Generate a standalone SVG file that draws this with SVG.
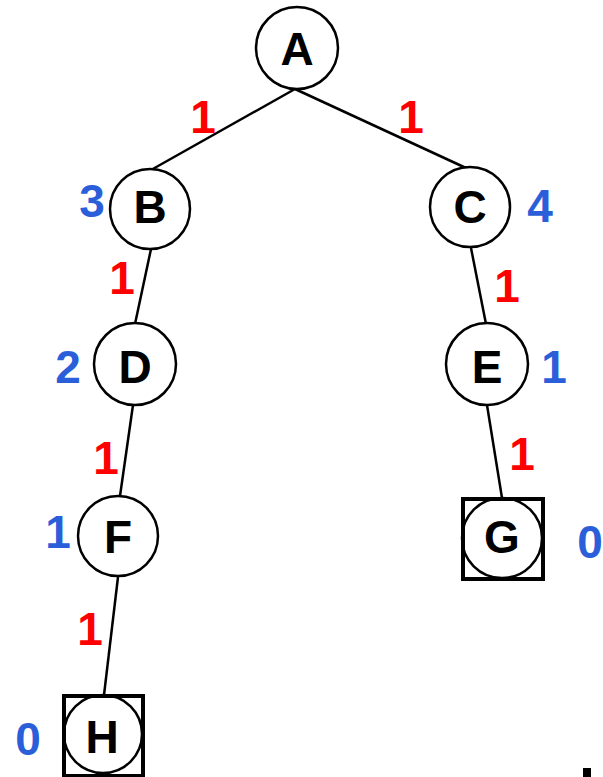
<svg xmlns="http://www.w3.org/2000/svg" width="603" height="777" viewBox="0 0 603 777">
<style>
.n{fill:#fff;stroke:#000;stroke-width:2.5}
.box{fill:none;stroke:#000;stroke-width:4}
.e{stroke:#000;stroke-width:2.5;fill:none}
.t{font-family:"Liberation Sans",Arial,sans-serif;font-weight:bold;font-size:46px;text-anchor:middle;fill:#000}
.w{font-family:"Liberation Sans",Arial,sans-serif;font-weight:bold;font-size:46px;text-anchor:middle;fill:#ff0000}
.h{font-family:"Liberation Sans",Arial,sans-serif;font-weight:bold;font-size:46px;text-anchor:middle;fill:#2b5fd9}
</style>
<rect width="603" height="777" fill="#fff"/>
<g id="edges">
<line class="e" x1="295" y1="89" x2="151" y2="170"/>
<line class="e" x1="295" y1="89" x2="466" y2="168"/>
<line class="e" x1="151" y1="249" x2="135" y2="324"/>
<line class="e" x1="133" y1="405" x2="120" y2="496"/>
<line class="e" x1="118" y1="577" x2="104" y2="695"/>
<line class="e" x1="471" y1="248" x2="486" y2="324"/>
<line class="e" x1="487" y1="405" x2="502" y2="498"/>
<text class="w" x="203" y="133">1</text>
<text class="w" x="411" y="133">1</text>
<text class="w" x="122" y="294">1</text>
<text class="w" x="507" y="302">1</text>
<text class="w" x="106" y="474">1</text>
<text class="w" x="522" y="470">1</text>
<text class="w" x="90" y="645">1</text>
</g>
<g id="A"><circle class="n" cx="297" cy="48" r="41"/><text class="t" x="297" y="65">A</text></g>
<g id="B"><circle class="n" cx="150" cy="209" r="40"/><text class="t" x="150" y="223">B</text><text class="h" x="92" y="217">3</text></g>
<g id="C"><circle class="n" cx="470" cy="207" r="40"/><text class="t" x="470" y="223">C</text><text class="h" x="540" y="222">4</text></g>
<g id="D"><circle class="n" cx="135" cy="364" r="41"/><text class="t" x="135" y="383">D</text><text class="h" x="68" y="383">2</text></g>
<g id="E"><circle class="n" cx="487" cy="364" r="41"/><text class="t" x="487" y="383">E</text><text class="h" x="554" y="383">1</text></g>
<g id="F"><circle class="n" cx="118" cy="536" r="40"/><text class="t" x="118" y="553">F</text><text class="h" x="58" y="548">1</text></g>
<g id="G"><circle class="n" cx="502" cy="538" r="40"/><rect class="box" x="463" y="499" width="80" height="80"/><text class="t" x="502" y="553">G</text><text class="h" x="590" y="558">0</text></g>
<g id="H"><circle class="n" cx="103" cy="734" r="39"/><rect class="box" x="64" y="696" width="79" height="80"/><text class="t" x="102" y="753">H</text><text class="h" x="28" y="755">0</text></g>
<rect x="583" y="768" width="8" height="9" fill="#000"/>
</svg>
